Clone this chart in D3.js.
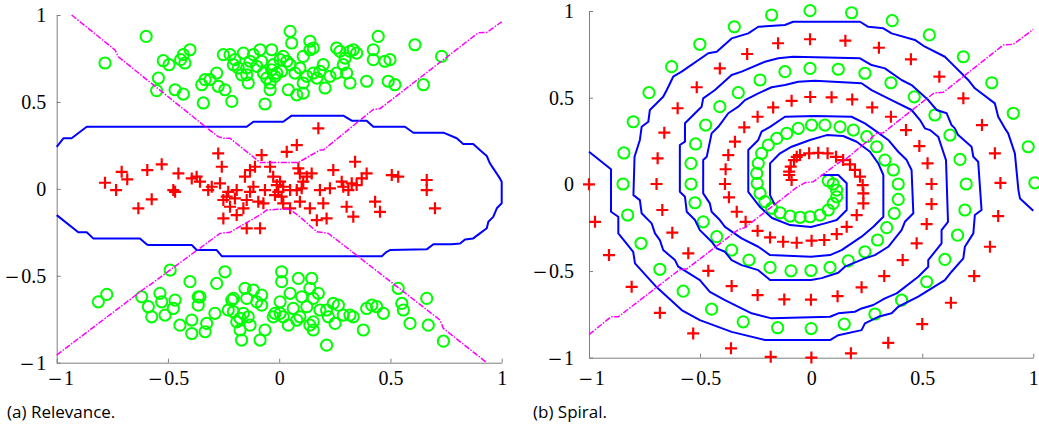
<!DOCTYPE html>
<html><head><meta charset="utf-8">
<script src="https://cdn.jsdelivr.net/npm/d3@7"></script>
<style>body{margin:0;background:#fff}svg{display:block}</style>
</head><body><svg id="c" width="1039" height="426"></svg>
<script>
const tickValues = [-1, -0.5, 0, 0.5, 1];
const tickLabels = ["\u22121", "\u22120.5", "0", "0.5", "1"];
const captions = ["(a) Relevance.", "(b) Spiral."];

const relGreenTop = [[-0.783,0.724],[-0.598,0.877],[-0.543,0.637],[-0.551,0.565],[-0.521,0.737],[-0.495,0.714],[-0.468,0.570],[-0.431,0.545],[-0.443,0.743],[-0.424,0.724],[-0.401,0.800],[-0.431,0.772],[-0.348,0.599],[-0.333,0.628],[-0.341,0.494],[-0.311,0.628],[-0.281,0.666],[-0.274,0.590],[-0.244,0.570],[-0.213,0.503],[-0.251,0.772],[-0.221,0.772],[-0.206,0.714],[-0.184,0.695],[-0.161,0.781],[-0.146,0.656],[-0.139,0.609],[-0.116,0.772],[-0.101,0.705],[-0.086,0.800],[-0.071,0.666],[-0.056,0.637],[-0.034,0.800],[-0.034,0.685],[-0.027,0.714],[-0.041,0.570],[-0.064,0.488],[-0.011,0.666],[0.004,0.743],[0.034,0.734],[0.041,0.570],[0.049,0.906],[0.056,0.839],[0.079,0.541],[0.093,0.695],[0.108,0.762],[0.108,0.551],[0.138,0.849],[0.138,0.800],[0.153,0.666],[0.169,0.637],[0.198,0.714],[0.206,0.580],[0.228,0.647],[0.258,0.810],[0.273,0.791],[0.288,0.714],[0.303,0.666],[0.318,0.609],[0.333,0.800],[0.348,0.781],[0.393,0.619],[0.423,0.800],[0.423,0.743],[0.445,0.877],[0.475,0.734],[0.498,0.743],[0.490,0.619],[0.520,0.599],[0.610,0.829],[0.648,0.599],[0.730,0.762],[-0.169,0.656],[-0.131,0.734],[-0.079,0.734],[0.011,0.676],[0.049,0.714],[0.071,0.666],[0.124,0.647],[0.183,0.676],[0.258,0.666],[0.296,0.752],[0.318,0.791],[-0.199,0.743],[-0.019,0.647],[0.108,0.609],[-0.041,0.609],[-0.146,0.695],[0.018,0.762],[0.153,0.810]];
const relGreenBottom = [[-0.813,-0.650],[-0.775,-0.607],[-0.618,-0.621],[-0.588,-0.678],[-0.573,-0.736],[-0.536,-0.601],[-0.528,-0.650],[-0.513,-0.726],[-0.490,-0.467],[-0.468,-0.640],[-0.476,-0.688],[-0.446,-0.784],[-0.401,-0.534],[-0.393,-0.755],[-0.393,-0.832],[-0.364,-0.669],[-0.356,-0.621],[-0.333,-0.822],[-0.326,-0.774],[-0.289,-0.716],[-0.281,-0.544],[-0.244,-0.477],[-0.213,-0.640],[-0.206,-0.707],[-0.191,-0.765],[-0.176,-0.812],[-0.169,-0.870],[-0.154,-0.572],[-0.139,-0.736],[-0.131,-0.784],[-0.116,-0.582],[-0.086,-0.870],[-0.079,-0.611],[-0.079,-0.669],[-0.064,-0.812],[-0.019,-0.716],[0.004,-0.650],[0.011,-0.477],[0.011,-0.534],[0.018,-0.736],[0.041,-0.784],[0.049,-0.601],[0.086,-0.515],[0.093,-0.736],[0.101,-0.621],[0.124,-0.678],[0.138,-0.572],[0.146,-0.515],[0.153,-0.765],[0.153,-0.812],[0.176,-0.601],[0.183,-0.697],[0.213,-0.899],[0.221,-0.736],[0.243,-0.659],[0.251,-0.774],[0.266,-0.669],[0.288,-0.726],[0.333,-0.736],[0.378,-0.812],[0.393,-0.688],[0.416,-0.669],[0.438,-0.678],[0.468,-0.716],[0.535,-0.572],[0.551,-0.659],[0.558,-0.697],[0.588,-0.774],[0.663,-0.630],[0.670,-0.784],[0.738,-0.876],[-0.206,-0.630],[-0.161,-0.716],[-0.146,-0.630],[-0.101,-0.650],[-0.027,-0.736],[0.063,-0.688],[0.079,-0.755],[0.153,-0.630],[0.213,-0.697],[0.318,-0.726],[-0.229,-0.697],[-0.176,-0.745],[0.004,-0.716],[0.138,-0.784],[-0.364,-0.621]];
const relRed = [[-0.783,0.035],[-0.733,-0.007],[-0.708,0.098],[-0.683,0.055],[-0.633,-0.112],[-0.593,0.108],[-0.573,-0.060],[-0.528,0.141],[-0.468,-0.017],[-0.453,0.089],[-0.393,0.060],[-0.371,0.070],[-0.356,0.041],[-0.319,-0.007],[-0.274,0.204],[-0.258,0.127],[-0.266,0.032],[-0.251,-0.064],[-0.251,-0.170],[-0.229,-0.017],[-0.221,-0.103],[-0.191,-0.007],[-0.191,-0.151],[-0.161,-0.112],[-0.154,0.070],[-0.146,-0.227],[-0.131,0.108],[-0.116,0.012],[-0.109,0.127],[-0.094,-0.074],[-0.086,-0.227],[-0.079,0.194],[-0.071,-0.083],[-0.064,-0.007],[-0.041,0.127],[-0.027,0.070],[-0.011,0.022],[-0.004,-0.017],[0.011,-0.045],[0.018,0.012],[0.034,0.213],[0.049,-0.007],[0.049,-0.112],[0.079,0.252],[0.086,0.118],[0.093,-0.074],[0.101,0.003],[0.124,0.070],[0.138,-0.112],[0.146,0.089],[0.169,-0.180],[0.176,0.348],[0.198,-0.083],[0.213,-0.170],[0.228,0.003],[0.243,0.108],[0.281,0.041],[0.303,-0.103],[0.311,-0.007],[0.326,0.032],[0.333,-0.160],[0.341,0.156],[0.348,0.022],[0.371,0.060],[0.393,0.089],[0.431,-0.074],[0.453,-0.132],[0.506,0.079],[0.535,0.070],[0.663,0.051],[0.663,-0.007],[0.700,-0.112],[-0.236,-0.045],[-0.199,-0.055],[-0.146,-0.064],[-0.131,-0.017],[-0.019,-0.036],[0.004,0.041],[0.079,-0.007],[0.108,0.041],[0.018,-0.083],[0.183,-0.007],[0.288,0.012],[0.093,0.089],[-0.476,-0.007],[-0.303,0.012]];
const relBoundary = [[-1.000,0.242],[-0.970,0.291],[-0.933,0.291],[-0.865,0.357],[-0.146,0.357],[-0.116,0.386],[0.018,0.386],[0.056,0.421],[0.288,0.421],[0.326,0.392],[0.393,0.392],[0.423,0.357],[0.565,0.357],[0.603,0.323],[0.738,0.323],[0.798,0.291],[0.827,0.258],[0.872,0.258],[0.902,0.223],[0.933,0.189],[0.947,0.147],[0.962,0.118],[0.992,0.060],[1.000,0.041],[1.000,-0.083],[0.978,-0.112],[0.962,-0.161],[0.940,-0.189],[0.933,-0.227],[0.902,-0.256],[0.872,-0.285],[0.835,-0.291],[0.813,-0.314],[0.775,-0.319],[0.693,-0.319],[0.663,-0.348],[0.498,-0.352],[0.483,-0.362],[0.461,-0.387],[-0.258,-0.387],[-0.281,-0.352],[-0.371,-0.352],[-0.393,-0.323],[-0.588,-0.323],[-0.596,-0.319],[-0.626,-0.285],[-0.836,-0.285],[-0.865,-0.250],[-0.903,-0.250],[-1.000,-0.151]];
const relDashUpper = [[-0.933,1.000],[-0.738,0.799],[-0.723,0.760],[-0.341,0.367],[-0.274,0.300],[-0.251,0.291],[-0.221,0.291],[-0.086,0.152],[0.086,0.152],[0.183,0.223],[0.198,0.223],[0.423,0.457],[0.453,0.461],[0.895,0.898],[0.933,0.900],[1.000,0.961]];
const relDashLower = [[-1.000,-0.956],[-0.640,-0.607],[-0.595,-0.563],[-0.588,-0.559],[-0.266,-0.256],[-0.221,-0.250],[-0.086,-0.150],[-0.056,-0.122],[-0.011,-0.118],[0.049,-0.118],[0.093,-0.161],[0.169,-0.247],[0.221,-0.256],[0.723,-0.755],[0.738,-0.803],[0.933,-1.000]];

const spiralGreen = [[0.077,0.021],[0.099,0.002],[0.115,-0.033],[0.115,-0.072],[0.099,-0.110],[0.077,-0.148],[0.040,-0.177],[-0.005,-0.187],[-0.050,-0.190],[-0.095,-0.183],[-0.140,-0.164],[-0.178,-0.138],[-0.208,-0.100],[-0.230,-0.052],[-0.243,0.006],[-0.245,0.063],[-0.238,0.121],[-0.223,0.179],[-0.193,0.227],[-0.155,0.265],[-0.110,0.294],[-0.058,0.323],[0.002,0.342],[0.062,0.342],[0.130,0.332],[0.190,0.313],[0.250,0.275],[0.295,0.217],[0.332,0.140],[0.370,0.083],[0.392,0.002],[0.392,-0.087],[0.374,-0.167],[0.340,-0.250],[0.299,-0.321],[0.242,-0.389],[0.167,-0.441],[0.085,-0.479],[-0.001,-0.497],[-0.091,-0.499],[-0.185,-0.479],[-0.280,-0.437],[-0.358,-0.379],[-0.425,-0.302],[-0.486,-0.216],[-0.523,-0.106],[-0.541,0.002],[-0.541,0.121],[-0.520,0.233],[-0.475,0.342],[-0.411,0.448],[-0.328,0.529],[-0.230,0.602],[-0.118,0.650],[-0.005,0.669],[0.122,0.664],[0.242,0.641],[0.359,0.586],[0.464,0.505],[0.557,0.400],[0.625,0.284],[0.670,0.144],[0.698,0.002],[0.692,-0.148],[0.659,-0.293],[0.602,-0.433],[0.520,-0.562],[0.407,-0.668],[0.287,-0.748],[0.149,-0.806],[0.000,-0.832],[-0.151,-0.827],[-0.306,-0.793],[-0.448,-0.720],[-0.576,-0.616],[-0.681,-0.490],[-0.766,-0.340],[-0.826,-0.177],[-0.847,0.002],[-0.843,0.181],[-0.801,0.361],[-0.730,0.529],[-0.628,0.679],[-0.501,0.808],[-0.346,0.909],[-0.178,0.977],[-0.005,1.002],[0.182,0.990],[0.365,0.944],[0.532,0.862],[0.685,0.736],[0.813,0.586],[0.910,0.410],[0.977,0.217],[1.007,0.009]];
const spiralRed = [[-0.088,0.025],[-0.099,0.054],[-0.099,0.073],[-0.092,0.102],[-0.077,0.140],[-0.065,0.159],[-0.050,0.169],[-0.009,0.179],[0.032,0.182],[0.074,0.179],[0.112,0.159],[0.144,0.140],[0.175,0.115],[0.197,0.083],[0.220,0.044],[0.232,-0.004],[0.235,-0.052],[0.235,-0.110],[0.205,-0.177],[0.160,-0.245],[0.115,-0.287],[0.059,-0.321],[0.002,-0.325],[-0.065,-0.337],[-0.126,-0.331],[-0.185,-0.306],[-0.241,-0.268],[-0.295,-0.216],[-0.335,-0.158],[-0.370,-0.075],[-0.388,0.002],[-0.385,0.087],[-0.373,0.169],[-0.343,0.246],[-0.301,0.329],[-0.241,0.390],[-0.171,0.444],[-0.088,0.482],[-0.004,0.504],[0.092,0.502],[0.185,0.490],[0.275,0.444],[0.359,0.390],[0.427,0.313],[0.487,0.221],[0.524,0.121],[0.542,0.002],[0.542,-0.114],[0.520,-0.229],[0.475,-0.340],[0.412,-0.437],[0.329,-0.529],[0.227,-0.594],[0.119,-0.645],[-0.001,-0.665],[-0.121,-0.664],[-0.241,-0.639],[-0.358,-0.587],[-0.463,-0.499],[-0.553,-0.398],[-0.625,-0.279],[-0.670,-0.148],[-0.696,0.002],[-0.691,0.150],[-0.661,0.298],[-0.601,0.439],[-0.515,0.560],[-0.411,0.669],[-0.288,0.752],[-0.149,0.814],[-0.005,0.837],[0.154,0.829],[0.305,0.788],[0.449,0.721],[0.577,0.621],[0.685,0.496],[0.769,0.342],[0.827,0.179],[0.852,0.008],[0.842,-0.183],[0.805,-0.360],[0.734,-0.529],[0.629,-0.683],[0.500,-0.806],[0.347,-0.914],[0.179,-0.975],[0.001,-0.999],[-0.182,-0.995],[-0.361,-0.946],[-0.531,-0.860],[-0.681,-0.741],[-0.808,-0.591],[-0.910,-0.408],[-0.973,-0.216],[-1.000,0.000]];
const spiralBoundaryA = [[-0.163,-0.120],[-0.185,-0.062],[-0.185,0.121],[-0.140,0.179],[-0.088,0.217],[-0.005,0.256],[0.070,0.284],[0.144,0.279],[0.205,0.246],[0.265,0.188],[0.302,0.121],[0.325,0.054],[0.325,-0.187],[0.280,-0.245],[0.227,-0.302],[0.137,-0.379],[0.085,-0.408],[-0.001,-0.418],[-0.185,-0.408],[-0.238,-0.360],[-0.313,-0.312],[-0.388,-0.245],[-0.411,-0.206],[-0.448,-0.158],[-0.456,-0.110],[-0.486,-0.052],[-0.486,0.140],[-0.470,0.159],[-0.448,0.294],[-0.418,0.332],[-0.373,0.410],[-0.328,0.448],[-0.298,0.486],[-0.238,0.525],[-0.178,0.560],[-0.118,0.573],[-0.058,0.592],[0.017,0.598],[0.227,0.583],[0.272,0.544],[0.362,0.486],[0.452,0.429],[0.490,0.371],[0.512,0.323],[0.535,0.313],[0.572,0.275],[0.587,0.217],[0.607,0.140],[0.616,-0.216],[0.587,-0.264],[0.587,-0.340],[0.527,-0.437],[0.527,-0.475],[0.482,-0.533],[0.385,-0.629],[0.332,-0.658],[0.280,-0.696],[0.227,-0.716],[0.197,-0.735],[0.122,-0.744],[0.085,-0.764],[-0.178,-0.773],[-0.268,-0.744],[-0.388,-0.668],[-0.456,-0.620],[-0.501,-0.552],[-0.598,-0.475],[-0.613,-0.437],[-0.666,-0.379],[-0.681,-0.322],[-0.703,-0.283],[-0.718,-0.225],[-0.763,-0.167],[-0.771,-0.091],[-0.800,-0.062],[-0.795,0.159],[-0.771,0.256],[-0.763,0.332],[-0.733,0.361],[-0.726,0.429],[-0.666,0.505],[-0.650,0.544],[-0.621,0.621],[-0.583,0.650],[-0.463,0.756],[-0.425,0.765],[-0.358,0.842],[-0.283,0.871],[-0.238,0.909],[-0.118,0.919],[-0.081,0.938],[0.220,0.938],[0.257,0.909],[0.325,0.900],[0.362,0.871],[0.467,0.833],[0.512,0.794],[0.602,0.736],[0.632,0.698],[0.707,0.602],[0.737,0.554],[0.827,0.467],[0.842,0.390],[0.872,0.323],[0.887,0.294],[0.917,0.179],[0.933,-0.033],[0.940,-0.081],[1.000,-0.152]];
const spiralBoundaryB = [[0.047,0.054],[0.122,0.054],[0.160,0.006],[0.160,-0.148],[0.115,-0.206],[0.062,-0.225],[-0.001,-0.246],[-0.095,-0.235],[-0.176,-0.194],[-0.230,-0.131],[-0.283,-0.044],[-0.283,0.198],[-0.238,0.256],[-0.223,0.304],[-0.185,0.332],[-0.118,0.390],[0.017,0.394],[0.182,0.390],[0.242,0.352],[0.295,0.304],[0.347,0.256],[0.392,0.188],[0.430,0.140],[0.452,0.083],[0.460,-0.167],[0.422,-0.216],[0.407,-0.264],[0.347,-0.360],[0.287,-0.408],[0.242,-0.427],[0.152,-0.475],[0.122,-0.510],[0.047,-0.541],[-0.001,-0.552],[-0.185,-0.552],[-0.238,-0.495],[-0.313,-0.466],[-0.358,-0.437],[-0.388,-0.389],[-0.425,-0.369],[-0.448,-0.331],[-0.501,-0.264],[-0.523,-0.206],[-0.560,-0.158],[-0.568,-0.072],[-0.591,-0.043],[-0.591,0.227],[-0.568,0.246],[-0.568,0.352],[-0.493,0.448],[-0.486,0.496],[-0.433,0.544],[-0.358,0.631],[-0.313,0.650],[-0.208,0.707],[-0.148,0.727],[-0.081,0.736],[0.220,0.727],[0.272,0.688],[0.332,0.669],[0.407,0.602],[0.452,0.573],[0.527,0.486],[0.565,0.429],[0.610,0.410],[0.632,0.342],[0.647,0.323],[0.662,0.284],[0.722,0.217],[0.730,0.159],[0.752,0.130],[0.767,-0.148],[0.737,-0.177],[0.730,-0.283],[0.692,-0.360],[0.685,-0.427],[0.632,-0.504],[0.602,-0.552],[0.542,-0.600],[0.482,-0.648],[0.392,-0.706],[0.362,-0.744],[0.302,-0.764],[0.242,-0.802],[0.227,-0.841],[0.122,-0.870],[0.085,-0.898],[-0.208,-0.898],[-0.358,-0.851],[-0.501,-0.783],[-0.583,-0.725],[-0.695,-0.594],[-0.793,-0.456],[-0.801,-0.389],[-0.838,-0.331],[-0.868,-0.283],[-0.868,-0.187],[-0.901,-0.158],[-0.901,0.087],[-1.000,0.188]];
const spiralDash = [[-1.0,-0.867],[-0.901,-0.764],[-0.868,-0.764],[-0.595,-0.495],[-0.559,-0.487],[-0.328,-0.261],[-0.298,-0.249],[-0.065,-0.018],[-0.028,0.009],[0.009,0.015],[0.130,0.130],[0.160,0.150],[0.295,0.294],[0.325,0.298],[0.553,0.527],[0.595,0.531],[0.865,0.804],[0.910,0.808],[1.0,0.894]];

const svg = d3.select("#c");
const AXIS = "#7f7f7f";
const SERIF = "'Liberation Serif', 'Times New Roman', serif";

function styleLabels(a, fmt, firstShift) {
  a.selectAll(".tick text").each(function (d) {
    const t = d3.select(this);
    const lab = fmt(d);
    t.attr("fill", "#000").style("font-family", SERIF).style("font-size", "20px").text(null);
    if (lab.startsWith("\u2212")) {
      t.append("tspan").style("font-family", "'DejaVu Serif', serif").style("font-size", "18px").text("\u2212");
      t.append("tspan").attr("dx", 1.5).text(lab.slice(1));
    } else {
      t.text(lab);
    }
    if (d === -1 && firstShift) t.attr("dx", firstShift);
  });
}

function drawPanel(o) {
  const g = svg.append("g");
  const x = d3.scaleLinear().domain([-1, 1]).range([o.x0, o.x1]);
  const y = d3.scaleLinear().domain([-1, 1]).range([o.y0, o.y1]);
  const fmt = (d) => tickLabels[tickValues.indexOf(d)];

  const xa = g.append("g").attr("transform", `translate(0,${o.y0})`)
    .call(d3.axisBottom(x).tickValues(tickValues).tickFormat(fmt).tickSizeInner(-4).tickSizeOuter(0).tickPadding(o.xPad));
  const ya = g.append("g").attr("transform", `translate(${o.x0},0)`)
    .call(d3.axisLeft(y).tickValues(tickValues).tickFormat(fmt).tickSizeInner(-4).tickSizeOuter(0).tickPadding(o.yPad));
  [[xa, o.firstShift], [ya, 0]].forEach(([a, sh]) => {
    a.select(".domain").attr("stroke", AXIS).attr("stroke-width", 1);
    a.selectAll(".tick line").attr("stroke", AXIS);
    styleLabels(a, fmt, sh);
  });

  const line = d3.line().x(d => x(d[0])).y(d => y(d[1]));

  o.circles.forEach(arr => {
    g.append("g").selectAll("circle").data(arr).join("circle")
      .attr("cx", d => x(d[0])).attr("cy", d => y(d[1])).attr("r", 5.6)
      .attr("fill", "none").attr("stroke", "#00ff00").attr("stroke-width", 2);
  });
  const s = 6;
  g.append("g").selectAll("path").data(o.plus).join("path")
    .attr("d", d => { const cx = x(d[0]), cy = y(d[1]); return `M${cx - s},${cy}H${cx + s}M${cx},${cy - s}V${cy + s}`; })
    .attr("stroke", "#ff0000").attr("stroke-width", 2.2).attr("fill", "none");

  o.blue.forEach(arr => {
    g.append("path").datum(arr).attr("d", line).attr("fill", "none")
      .attr("stroke", "#0000ff").attr("stroke-width", 2).attr("stroke-linejoin", "round");
  });
  o.dash.forEach(arr => {
    g.append("path").datum(arr).attr("d", line).attr("fill", "none")
      .attr("stroke", "#ff00ff").attr("stroke-width", 1.5).attr("stroke-dasharray", "6,1.5,1.5,1.5");
  });

  svg.append("text").attr("x", o.capX).attr("y", 418).text(o.caption)
    .style("font-family", "'Open Sans', Lato, sans-serif").style("font-size", "17px").attr("fill", "#000");
}

drawPanel({ x0: 56.7, x1: 501.7, y0: 362.7, y1: 15, xPad: 8, yPad: 10.5, firstShift: 3.5,
  circles: [relGreenTop, relGreenBottom], plus: relRed, blue: [relBoundary],
  dash: [relDashUpper, relDashLower], caption: captions[0], capX: 7 });
drawPanel({ x0: 589, x1: 1033.3, y0: 357.7, y1: 11, xPad: 13, yPad: 15, firstShift: 2,
  circles: [spiralGreen], plus: spiralRed, blue: [spiralBoundaryA, spiralBoundaryB],
  dash: [spiralDash], caption: captions[1], capX: 533 });
</script></body></html>
